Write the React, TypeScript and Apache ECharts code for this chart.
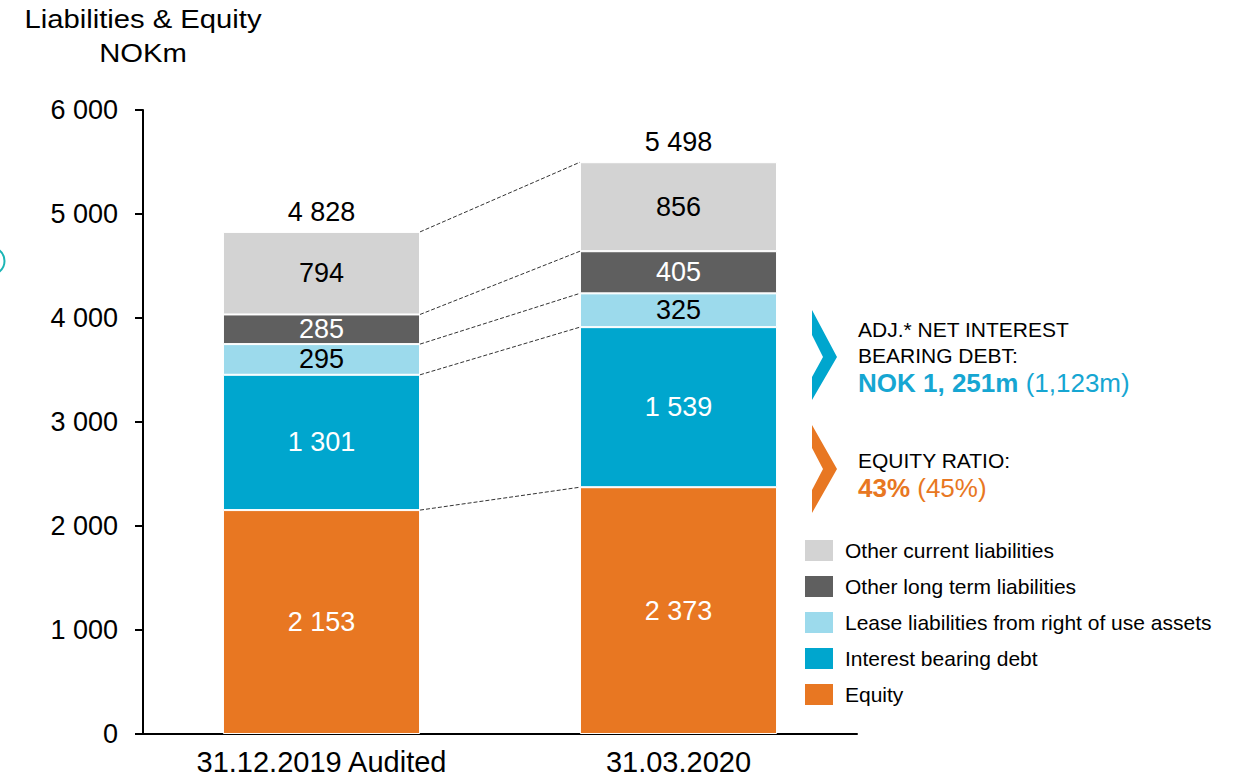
import React, { useEffect, useRef } from "react";
import * as echarts from "echarts";

const categories = ["31.12.2019 Audited", "31.03.2020"];
const equity = [2153, 2373];
const interestBearingDebt = [1301, 1539];
const leaseLiabilities = [295, 325];
const otherLongTerm = [285, 405];
const otherCurrent = [794, 856];
const yTicks = [0, 1000, 2000, 3000, 4000, 5000, 6000];

const seriesNames = [
  "Equity",
  "Interest bearing debt",
  "Lease liabilities from right of use assets",
  "Other long term liabilities",
  "Other current liabilities",
];

const FONT = "'Liberation Sans', Arial, Helvetica, sans-serif";
const colors = ["#E87722", "#00A6CE", "#9CDAEC", "#5F5F5F", "#D3D3D3"];
const labelColors = ["#ffffff", "#ffffff", "#000000", "#ffffff", "#000000"];

const fmt = (n: number) => String(n).replace(/\B(?=(\d{3})+(?!\d))/g, " ");

export default function App() {
  const ref = useRef<HTMLDivElement>(null);

  useEffect(() => {
    if (!ref.current) return;
    const chart = echarts.init(ref.current, undefined, { renderer: "svg" });
    const stacks = [equity, interestBearingDebt, leaseLiabilities, otherLongTerm, otherCurrent];
    const totals = categories.map((_, i) => stacks.reduce((s, a) => s + a[i], 0));
    const connectors: number[][] = [];
    let cumL = 0;
    let cumR = 0;
    stacks.forEach((a) => {
      cumL += a[0];
      cumR += a[1];
      connectors.push([0, cumL, cumR]);
    });
    const BW = 0.552;

    const barSeries = stacks.map((data, k) => ({
      name: seriesNames[k],
      type: "bar",
      stack: "total",
      barWidth: BW * 100 + "%",
      data,
      itemStyle: { color: colors[k], borderColor: "#ffffff", borderWidth: 1 },
      label: {
        show: true,
        position: "inside",
        color: labelColors[k],
        fontFamily: FONT,
        fontSize: 27,
        formatter: (p: any) => fmt(p.value),
      },
    }));

    const option: any = {
      animation: false,
      textStyle: { fontFamily: FONT },
      grid: { left: 143, right: 382, top: 110, bottom: 42, containLabel: false },
      xAxis: {
        type: "category",
        data: categories,
        axisLine: { lineStyle: { color: "#000", width: 2 } },
        axisTick: { show: false },
        axisLabel: { color: "#000", fontSize: 29, fontFamily: FONT, margin: 13 },
      },
      yAxis: {
        type: "value",
        min: yTicks[0],
        max: yTicks[yTicks.length - 1],
        interval: 1000,
        axisLine: { show: true, lineStyle: { color: "#000", width: 2 } },
        axisTick: { show: true, length: 8, lineStyle: { color: "#000", width: 2 } },
        splitLine: { show: false },
        axisLabel: {
          color: "#000",
          fontSize: 27,
          fontFamily: FONT,
          margin: 25,
          formatter: (v: number) => fmt(v),
        },
      },
      legend: {
        orient: "vertical",
        left: 800,
        top: 535,
        itemWidth: 28,
        itemHeight: 21,
        itemGap: 15,
        icon: "rect",
        itemStyle: { borderWidth: 0 },
        data: [...seriesNames].reverse(),
        textStyle: { color: "#000", fontSize: 21, fontFamily: FONT, padding: [0, 0, 0, 7] },
      },
      series: [
        ...barSeries,
        {
          name: "Total",
          type: "scatter",
          data: totals,
          symbol: "rect",
          symbolSize: 1,
          itemStyle: { color: "rgba(255,255,255,0)", opacity: 1 },
          silent: true,
          z: 6,
          label: {
            show: true,
            position: "top",
            distance: 6,
            color: "#000",
            opacity: 1,
            fontSize: 27,
            fontFamily: FONT,
            formatter: (p: any) => fmt(p.value),
          },
        },
        {
          name: "connectors",
          type: "custom",
          silent: true,
          data: connectors,
          encode: { x: 0, y: 1 },
          z: 5,
          renderItem: (params: any, api: any) => {
            const l = api.value(1);
            const r = api.value(2);
            const p1 = api.coord([0, l]);
            const p2 = api.coord([1, r]);
            const half = (api.size([1, 0])[0] * BW) / 2;
            return {
              type: "line",
              shape: { x1: p1[0] + half, y1: p1[1], x2: p2[0] - half, y2: p2[1] },
              style: { stroke: "#333", lineWidth: 1, lineDash: [4, 2] },
            };
          },
        },
      ],
      graphic: [
        {
          type: "text",
          x: 143,
          y: 19,
          scaleX: 1.17,
          style: { text: "Liabilities & Equity", fontSize: 25, fontFamily: FONT, fill: "#000", align: "center", verticalAlign: "middle" },
        },
        {
          type: "text",
          x: 143,
          y: 53,
          scaleX: 1.17,
          style: { text: "NOKm", fontSize: 25, fontFamily: FONT, fill: "#000", align: "center", verticalAlign: "middle" },
        },
        {
          type: "arc",
          shape: { cx: -9, cy: 261, r: 13.5, startAngle: -1.0, endAngle: 1.0 },
          style: { stroke: "#1BB5B5", lineWidth: 2, fill: "none" },
        },
        {
          type: "polygon",
          shape: { points: [[812, 310], [837, 357], [812, 400], [812, 377], [823, 357], [812, 335]] },
          style: { fill: "#00A6CE" },
        },
        {
          type: "polygon",
          shape: { points: [[812, 425], [837, 469], [812, 513], [812, 490], [823, 469], [812, 448]] },
          style: { fill: "#E87722" },
        },
        {
          type: "text",
          x: 858,
          y: 329,
          style: { text: "ADJ.* NET INTEREST", fontSize: 21, fontFamily: FONT, fill: "#000", verticalAlign: "middle" },
        },
        {
          type: "text",
          x: 858,
          y: 355,
          style: { text: "BEARING DEBT:", fontSize: 21, fontFamily: FONT, fill: "#000", verticalAlign: "middle" },
        },
        {
          type: "text",
          x: 858,
          y: 383,
          style: {
            text: "{b|NOK 1, 251m} {n|(1,123m)}",
            fontSize: 26,
            fontFamily: FONT,
            fill: "#16A6D2",
            verticalAlign: "middle",
            rich: {
              b: { fontSize: 26, fontWeight: "bold", fontFamily: FONT, fill: "#16A6D2", color: "#16A6D2" },
              n: { fontSize: 26, fontFamily: FONT, fill: "#16A6D2", color: "#16A6D2" },
            },
          },
        },
        {
          type: "text",
          x: 858,
          y: 460,
          style: { text: "EQUITY RATIO:", fontSize: 21, fontFamily: FONT, fill: "#000", verticalAlign: "middle" },
        },
        {
          type: "text",
          x: 858,
          y: 488,
          style: {
            text: "{b|43%} {n|(45%)}",
            fontSize: 26,
            fontFamily: FONT,
            fill: "#E87722",
            verticalAlign: "middle",
            rich: {
              b: { fontSize: 26, fontWeight: "bold", fontFamily: FONT, fill: "#E87722", color: "#E87722" },
              n: { fontSize: 26, fontFamily: FONT, fill: "#E87722", color: "#E87722" },
            },
          },
        },
      ],
    };

    chart.setOption(option);
    return () => chart.dispose();
  }, []);

  return (
    <div
      ref={ref}
      style={{ position: "absolute", left: 0, top: 0, width: 1239, height: 776, background: "#fff" }}
    />
  );
}
